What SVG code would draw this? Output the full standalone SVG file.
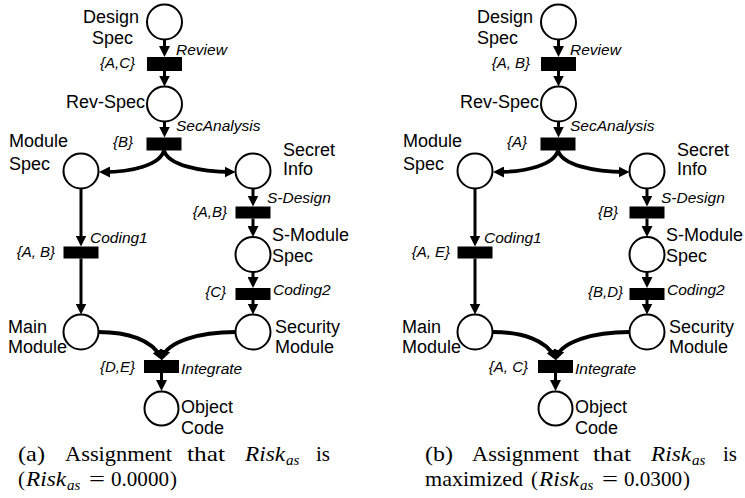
<svg xmlns="http://www.w3.org/2000/svg" width="745" height="498" viewBox="0 0 745 498">
<defs>
<style>
.place{fill:#fff;stroke:#000;stroke-width:2}
.trans{fill:#000}
.arc{fill:none;stroke:#000;stroke-width:3;marker-end:url(#ah)}
.arcc{fill:none;stroke:#000;stroke-width:3.8;marker-end:url(#ah)}
.lbl{font-family:"Liberation Sans",Arial,Helvetica,sans-serif;font-size:18px;fill:#000}
.tn{font-family:"Liberation Sans",Arial,Helvetica,sans-serif;font-size:15.5px;font-style:italic;fill:#000}
.set{font-family:"Liberation Sans",Arial,Helvetica,sans-serif;font-size:15px;font-style:italic;fill:#000;text-anchor:end}
.cap{font-family:"Liberation Serif","Times New Roman",serif;font-size:21px;fill:#000}
.it{font-style:italic}
.sub{font-family:"Liberation Serif","Times New Roman",serif;font-size:15px;font-style:italic;fill:#000}
</style>
<marker id="ah" markerUnits="userSpaceOnUse" markerWidth="11" markerHeight="11" viewBox="0 0 11 11" refX="7" refY="5.5" orient="auto">
<path d="M0,0 L11,5.5 L0,11 z" fill="#000"/>
</marker>
</defs>

<!-- Panel (a) -->
<g id="panel-a">
<g id="a-connectors">
<path class="arc" d="M164.5,40 V53"/>
<path class="arc" d="M164.5,71 V82.5"/>
<path class="arc" d="M164.5,121.5 V133.5"/>
<path class="arcc" d="M164,150.5 C160,165 132,172 103,172"/>
<path class="arcc" d="M164,150.5 C168,165 200,172 231.5,172"/>
<path class="arc" d="M81,188.5 V242.5"/>
<path class="arc" d="M81,258.5 V310.5"/>
<path class="arc" d="M253,188.5 V202.5"/>
<path class="arc" d="M253,218.5 V233"/>
<path class="arc" d="M253,272 V284"/>
<path class="arc" d="M253,300 V310.5"/>
<path class="arcc" d="M98.5,332 C128,332 152,340 160.5,357"/>
<path class="arcc" d="M235.5,332 C198,332 168,342 162.5,357"/>
<path class="arc" d="M161.5,373 V387"/>
</g>
<g id="a-design-spec"><circle class="place" cx="164.5" cy="22" r="17.5"/><text class="lbl" x="83" y="23">Design</text><text class="lbl" x="92" y="44">Spec</text></g>
<g id="a-review"><rect class="trans" x="147" y="57" width="35" height="14"/><text class="tn" x="176" y="55">Review</text><text class="set" x="135" y="68">{A,C}</text></g>
<g id="a-rev-spec"><circle class="place" cx="164.5" cy="104" r="17.5"/><text class="lbl" x="66" y="108">Rev-Spec</text></g>
<g id="a-secanalysis"><rect class="trans" x="146.5" y="137.5" width="35" height="13"/><text class="tn" x="176" y="131">SecAnalysis</text><text class="set" x="133" y="147">{B}</text></g>
<g id="a-module-spec"><circle class="place" cx="81" cy="171" r="17.5"/><text class="lbl" x="9" y="147">Module</text><text class="lbl" x="9" y="170">Spec</text></g>
<g id="a-secret-info"><circle class="place" cx="253" cy="171" r="17.5"/><text class="lbl" x="283" y="156">Secret</text><text class="lbl" x="283" y="175">Info</text></g>
<g id="a-s-design"><rect class="trans" x="235.5" y="206.5" width="35" height="12"/><text class="tn" x="267" y="203">S-Design</text><text class="set" x="227" y="217">{A,B}</text></g>
<g id="a-s-module-spec"><circle class="place" cx="253" cy="254.5" r="17.5"/><text class="lbl" x="272" y="241">S-Module</text><text class="lbl" x="272" y="262">Spec</text></g>
<g id="a-coding1"><rect class="trans" x="63.5" y="246.5" width="35" height="12"/><text class="tn" x="90" y="243">Coding1</text><text class="set" x="55" y="257">{A, B}</text></g>
<g id="a-coding2"><rect class="trans" x="235.5" y="288" width="35" height="12"/><text class="tn" x="273" y="295">Coding2</text><text class="set" x="226" y="297">{C}</text></g>
<g id="a-main-module"><circle class="place" cx="81" cy="332" r="17.5"/><text class="lbl" x="8" y="333">Main</text><text class="lbl" x="8" y="353">Module</text></g>
<g id="a-security-module"><circle class="place" cx="253" cy="332" r="17.5"/><text class="lbl" x="275" y="333">Security</text><text class="lbl" x="275" y="353">Module</text></g>
<g id="a-integrate"><rect class="trans" x="144" y="360" width="35" height="13"/><text class="tn" x="181" y="374">Integrate</text><text class="set" x="135" y="372">{D,E}</text></g>
<g id="a-object-code"><circle class="place" cx="161.5" cy="408.5" r="17"/><text class="lbl" x="181" y="413">Object</text><text class="lbl" x="181" y="434">Code</text></g>
</g>

<!-- Panel (b) -->
<g id="panel-b" transform="translate(394,0)">
<g id="b-connectors">
<path class="arc" d="M164.5,40 V53"/>
<path class="arc" d="M164.5,71 V82.5"/>
<path class="arc" d="M164.5,121.5 V133.5"/>
<path class="arcc" d="M164,150.5 C160,165 132,172 103,172"/>
<path class="arcc" d="M164,150.5 C168,165 200,172 231.5,172"/>
<path class="arc" d="M81,188.5 V242.5"/>
<path class="arc" d="M81,258.5 V310.5"/>
<path class="arc" d="M253,188.5 V202.5"/>
<path class="arc" d="M253,218.5 V233"/>
<path class="arc" d="M253,272 V284"/>
<path class="arc" d="M253,300 V310.5"/>
<path class="arcc" d="M98.5,332 C128,332 152,340 160.5,357"/>
<path class="arcc" d="M235.5,332 C198,332 168,342 162.5,357"/>
<path class="arc" d="M161.5,373 V387"/>
</g>
<g id="b-design-spec"><circle class="place" cx="164.5" cy="22" r="17.5"/><text class="lbl" x="83" y="23">Design</text><text class="lbl" x="83" y="44">Spec</text></g>
<g id="b-review"><rect class="trans" x="147" y="57" width="35" height="14"/><text class="tn" x="176" y="55">Review</text><text class="set" x="136" y="68">{A, B}</text></g>
<g id="b-rev-spec"><circle class="place" cx="164.5" cy="104" r="17.5"/><text class="lbl" x="66" y="108">Rev-Spec</text></g>
<g id="b-secanalysis"><rect class="trans" x="146.5" y="137.5" width="35" height="13"/><text class="tn" x="176" y="131">SecAnalysis</text><text class="set" x="133" y="147">{A}</text></g>
<g id="b-module-spec"><circle class="place" cx="81" cy="171" r="17.5"/><text class="lbl" x="9" y="147">Module</text><text class="lbl" x="9" y="170">Spec</text></g>
<g id="b-secret-info"><circle class="place" cx="253" cy="171" r="17.5"/><text class="lbl" x="283" y="156">Secret</text><text class="lbl" x="283" y="175">Info</text></g>
<g id="b-s-design"><rect class="trans" x="235.5" y="206.5" width="35" height="12"/><text class="tn" x="267" y="203">S-Design</text><text class="set" x="224" y="217">{B}</text></g>
<g id="b-s-module-spec"><circle class="place" cx="253" cy="254.5" r="17.5"/><text class="lbl" x="272" y="241">S-Module</text><text class="lbl" x="272" y="262">Spec</text></g>
<g id="b-coding1"><rect class="trans" x="63.5" y="246.5" width="35" height="12"/><text class="tn" x="90" y="243">Coding1</text><text class="set" x="56" y="257">{A, E}</text></g>
<g id="b-coding2"><rect class="trans" x="235.5" y="288" width="35" height="12"/><text class="tn" x="273" y="295">Coding2</text><text class="set" x="229" y="297">{B,D}</text></g>
<g id="b-main-module"><circle class="place" cx="81" cy="332" r="17.5"/><text class="lbl" x="8" y="333">Main</text><text class="lbl" x="8" y="353">Module</text></g>
<g id="b-security-module"><circle class="place" cx="253" cy="332" r="17.5"/><text class="lbl" x="275" y="333">Security</text><text class="lbl" x="275" y="353">Module</text></g>
<g id="b-integrate"><rect class="trans" x="144" y="360" width="35" height="13"/><text class="tn" x="181" y="374">Integrate</text><text class="set" x="134" y="372">{A, C}</text></g>
<g id="b-object-code"><circle class="place" cx="161.5" cy="408.5" r="17"/><text class="lbl" x="181" y="413">Object</text><text class="lbl" x="181" y="434">Code</text></g>
</g>

<!-- Captions -->
<g id="caption-a">
<text class="cap" x="18" y="461" textLength="27" lengthAdjust="spacingAndGlyphs">(a)</text>
<text class="cap" x="65" y="461" textLength="107" lengthAdjust="spacingAndGlyphs">Assignment</text>
<text class="cap" x="187" y="461" textLength="38" lengthAdjust="spacingAndGlyphs">that</text>
<text class="cap it" x="245" y="461" textLength="40" lengthAdjust="spacingAndGlyphs">Risk</text>
<text class="sub" x="286" y="465">as</text>
<text class="cap" x="316" y="461" textLength="14" lengthAdjust="spacingAndGlyphs">is</text>
<text class="cap" x="18" y="486">(</text>
<text class="cap it" x="26" y="486" textLength="40" lengthAdjust="spacingAndGlyphs">Risk</text>
<text class="sub" x="67" y="490">as</text>
<text class="cap" x="89" y="486" textLength="16" lengthAdjust="spacingAndGlyphs">=</text>
<text class="cap" x="111" y="486" textLength="58" lengthAdjust="spacingAndGlyphs">0.0000</text>
<text class="cap" x="170" y="486">)</text>
</g>
<g id="caption-b">
<text class="cap" x="425" y="461" textLength="28" lengthAdjust="spacingAndGlyphs">(b)</text>
<text class="cap" x="472" y="461" textLength="107" lengthAdjust="spacingAndGlyphs">Assignment</text>
<text class="cap" x="593" y="461" textLength="38" lengthAdjust="spacingAndGlyphs">that</text>
<text class="cap it" x="651" y="461" textLength="40" lengthAdjust="spacingAndGlyphs">Risk</text>
<text class="sub" x="692" y="465">as</text>
<text class="cap" x="723" y="461" textLength="14" lengthAdjust="spacingAndGlyphs">is</text>
<text class="cap" x="425" y="486" textLength="98" lengthAdjust="spacingAndGlyphs">maximized</text>
<text class="cap" x="531" y="486">(</text>
<text class="cap it" x="539" y="486" textLength="40" lengthAdjust="spacingAndGlyphs">Risk</text>
<text class="sub" x="580" y="490">as</text>
<text class="cap" x="602" y="486" textLength="16" lengthAdjust="spacingAndGlyphs">=</text>
<text class="cap" x="624" y="486" textLength="58" lengthAdjust="spacingAndGlyphs">0.0300</text>
<text class="cap" x="683" y="486">)</text>
</g>
</svg>
